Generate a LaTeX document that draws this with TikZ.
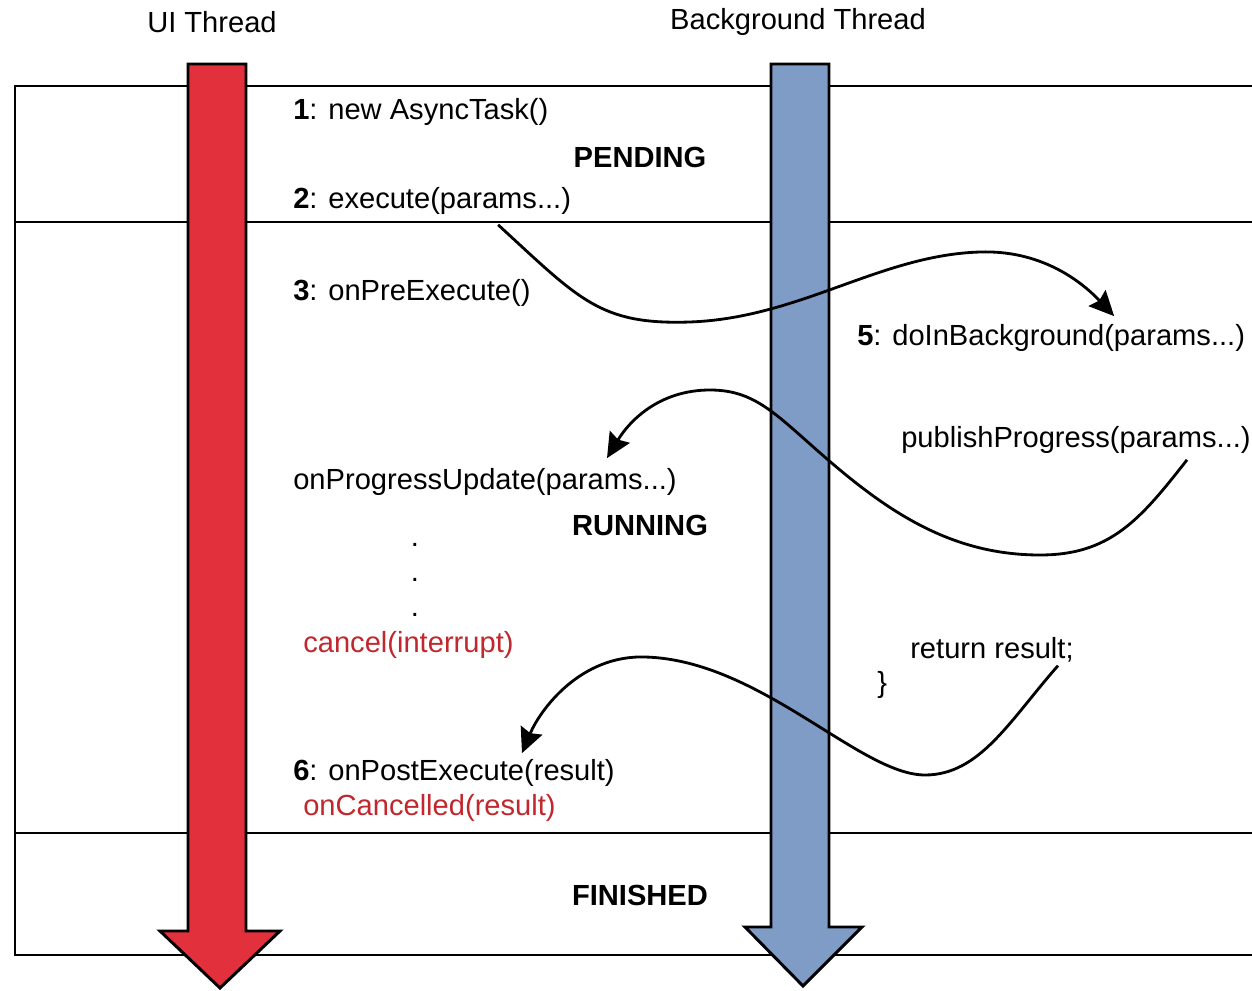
\documentclass[tikz,border=0pt]{standalone}
\usepackage{fontspec}
\setmainfont{Liberation Sans}
\usetikzlibrary{positioning,arrows.meta}
\definecolor{uired}{HTML}{E2313C}
\definecolor{bgblue}{HTML}{7F9CC7}
\definecolor{cancelred}{HTML}{C1272D}

\begin{document}
\begin{tikzpicture}[
x=0.025cm, y=-0.025cm,
callnode/.style={anchor=west, inner sep=0pt, font=\fontsize{20.7}{24}\selectfont},
cancelnode/.style={callnode, text=cancelred},
statenode/.style={inner sep=0pt, font=\fontsize{20.7}{24}\selectfont\bfseries},
threadnode/.style={inner sep=0pt, font=\fontsize{20.7}{24}\selectfont},
dotnode/.style={inner sep=0pt, font=\fontsize{20.7}{24}\selectfont},
threadarrow/.style={draw=black, line width=2.1pt, line join=miter},
stateline/.style={line width=2pt},
callline/.style={line width=2pt, -{Stealth[length=0.62cm, width=0.58cm, inset=0.08cm]}},
]
\useasboundingbox (0,0) rectangle (1252,991);

%State box
\draw[stateline] (1252,86) -- (15,86) -- (15,955) -- (1252,955);
\draw[stateline] (15,222) -- (1252,222);
\draw[stateline] (15,833) -- (1252,833);

%Threads
\filldraw[threadarrow, fill=uired] (188,64) -- (246,64) -- (246,931) -- (280,931)
  -- (220,988) -- (160,931) -- (188,931) -- cycle;
\filldraw[threadarrow, fill=bgblue] (771,64) -- (829,64) -- (829,927) -- (862,927)
  -- (803,986) -- (745,927) -- (771,927) -- cycle;

%Nodes
\node[threadnode]  (uithread)    at (212,22)  {UI Thread};
\node[threadnode]  (bgthread)    at (798,22)  {Background Thread};
\node[callnode]    (newtask)     at (293,112) {\textbf{1}: new AsyncTask()};
\node[statenode]   (pending)     at (640,157) {PENDING};
\node[callnode]    (execute)     at (293,201) {\textbf{2}: execute(params...)};
\node[callnode]    (preexecute)  at (293,293) {\textbf{3}: onPreExecute()};
\node[callnode]    (background)  at (857,338) {\textbf{5}: doInBackground(params...)};
\node[callnode]    (publish)     at (901,440) {publishProgress(params...)};
\node[callnode]    (progress)    at (293,482) {onProgressUpdate(params...)};
\node[statenode]   (running)     at (640,525) {RUNNING};
\foreach \y in {545,580,615}
  \node[dotnode]   (dot\y)       at (415,\y)  {.};
\node[cancelnode]  (cancel)      at (303,645) {cancel(interrupt)};
\node[callnode]    (result)      at (910,650) {return result;};
\node[callnode]    (closebrace)  at (877,685) {\}};
\node[callnode]    (postexecute) at (293,773) {\textbf{6}: onPostExecute(result)};
\node[cancelnode]  (cancelled)   at (303,808) {onCancelled(result)};
\node[statenode]   (finished)    at (640,895) {FINISHED};

%Lines
\draw[callline] ([shift={(66,10)}]execute.south) .. controls (580,300) and (600,325) .. (690,322)
  .. controls (800,318) and (880,255) .. (980,252)
  .. controls (1040,250) and (1080,280) .. ([shift={(63,-8)}]background.north);
\draw[callline] ([shift={(111,6)}]publish.south) .. controls (1140,520) and (1110,555) .. (1040,555)
  .. controls (960,555) and (900,520) .. (840,470)
  .. controls (780,420) and (760,390) .. (710,390)
  .. controls (660,390) and (630,420) .. ([shift={(122,-10)}]progress.north);
\draw[callline] ([shift={(66,3)}]result.south) .. controls (1010,720) and (980,775) .. (925,775)
  .. controls (860,775) and (760,660) .. (645,657)
  .. controls (580,655) and (540,710) .. ([shift={(68,-6)}]postexecute.north);
\end{tikzpicture}
\end{document}
